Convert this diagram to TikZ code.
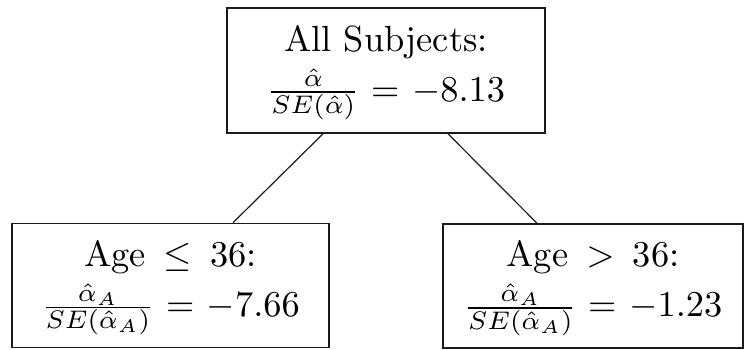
\documentclass[tikz,border=0pt]{standalone}
\usepackage{amsmath,amssymb}
\usepackage{graphicx}
\usepackage{tikz}
\usetikzlibrary{calc,positioning}
\definecolor{ink}{HTML}{1A1A1A}
\tikzset{
  treebox/.style={draw=ink,line width=0.8pt,align=center,inner sep=0pt},
  treeedge/.style={draw=ink,line width=0.6pt}
}
\newcommand{\splitlabel}[2]{\scalebox{1.82}{\begin{tabular}{@{}c@{}}#1\\[1.2pt] #2\end{tabular}}}

\begin{document}
\begin{tikzpicture}[x=0.5pt,y=-0.5pt]
    \useasboundingbox (0,0) rectangle (747,349);

    % root: all subjects
    \node[treebox,minimum width=159pt,minimum height=62.5pt] (all) at (386,70.5)
      {\splitlabel{All Subjects:}{$\frac{\hat{\alpha}}{SE(\hat{\alpha})}$ = $-8.13$}};

    % split on age
    \node[treebox,minimum width=158.5pt,minimum height=62pt] (young) at (170.5,285.5)
      {\splitlabel{Age~$\,\leq\,$~36:}{$\frac{\hat{\alpha}_A}{SE(\hat{\alpha}_A)}$ = $-7.66$}};
    \node[treebox,minimum width=150pt,minimum height=62pt] (old) at (593,286)
      {\splitlabel{Age~$\,>\,$~36:}{$\frac{\hat{\alpha}_A}{SE(\hat{\alpha}_A)}$ = $-1.23$}};

    % branches
    \draw[treeedge] ($(all.south)+(-63,0)$) -- ($(young.north)+(62.5,0)$);
    \draw[treeedge] ($(all.south)+(62,0)$) -- ($(old.north)+(-56,0)$);
  \end{tikzpicture}
\end{document}
